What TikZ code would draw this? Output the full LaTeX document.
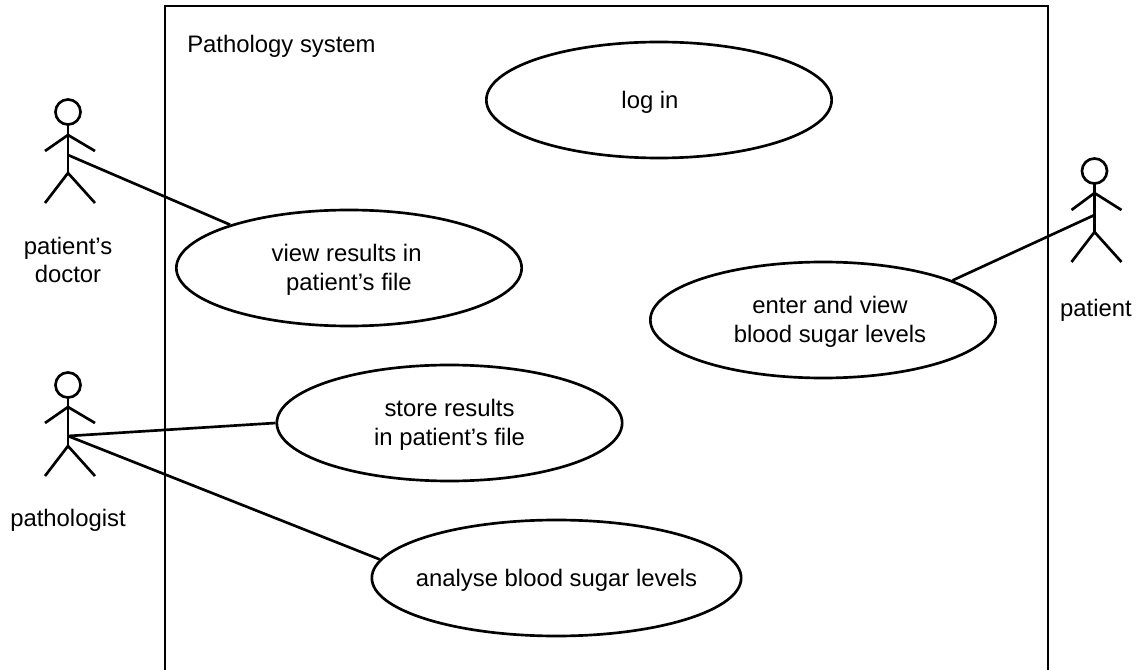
\documentclass[tikz,border=0pt]{standalone}
\usepackage{fontspec}
\setmainfont{Liberation Sans}
\usetikzlibrary{shapes.geometric}
\newcommand{\fs}{\fontsize{17.9}{21.7}\selectfont}
\newcommand{\tp}{\rule{0pt}{16pt}}
\newcommand{\pad}[1]{\rule{#1}{0pt}}
\tikzset{
 lw/.style={line width=2pt,black},
 uc/.style={ellipse,draw,lw,fill=white,minimum width=259pt,minimum height=87pt,inner sep=0pt,align=center,font=\fs},
 lab/.style={align=center,font=\fs,inner sep=0pt}
}
% #1 x, #2 head-centre y, #3 arm-root y, #4 arm-end y, #5 hip y, #6 foot y, #7 attach y, #8 name
\newcommand{\actor}[8]{%
 \draw[lw] (#1,#2) circle [radius=9.4pt];
 \draw[lw] (#1,#2+12.5) -- (#1,#5);
 \draw[lw] (#1-23,#4) -- (#1,#3) -- (#1+27,#4);
 \draw[lw] (#1-23,#6) -- (#1,#5) -- (#1+27,#6);
 \coordinate (#8) at (#1,#7);
}
\begin{document}
\begin{tikzpicture}[x=0.75pt,y=-0.75pt]
\useasboundingbox (0,0) rectangle (1139,670);
\fill[white] (0,0) rectangle (1139,670);
\coordinate (bl) at (165,671);
\coordinate (tl) at (165,6);
\coordinate (tr) at (1048,6);
\coordinate (br) at (1048,671);
\draw[lw] (bl) -- (tl) -- (tr) -- (br);
\node[lab,anchor=west] (sys) at (187,46) {Pathology system};
\actor{68}{112}{135}{151}{173}{203}{155}{docH}
\actor{68}{385}{407}{423}{446}{476}{436}{pathH}
\actor{1094.5}{171}{193}{210}{232}{262}{215}{patH}
\node[uc] (login) at (659,100) {\tp log in\pad{13.5pt}};
\node[uc] (view) at (349,268) {\tp view results in\pad{3.5pt}\\patient’s file};
\node[uc] (enter) at (823,320) {\tp\pad{10.5pt}enter and view\\\pad{10.5pt}blood sugar levels};
\node[uc] (store) at (449.5,423) {\tp store results\\in patient’s file};
\node[uc,minimum width=277pt] (analyse) at (556.5,578) {\makebox[0pt]{\tp analyse blood sugar levels}};
\draw[lw] (docH) -- (view.160);
\draw[lw] (patH) -- (enter.17.5);
\draw[lw] (pathH) -- (store.180);
\draw[lw] (pathH) -- (analyse.174);
\node[lab] (l1) at (68,260) {patient’s\\doctor};
\node[lab] (l2) at (68,520) {pathologist};
\node[lab] (l3) at (1096,310) {patient};
\end{tikzpicture}
\end{document}
